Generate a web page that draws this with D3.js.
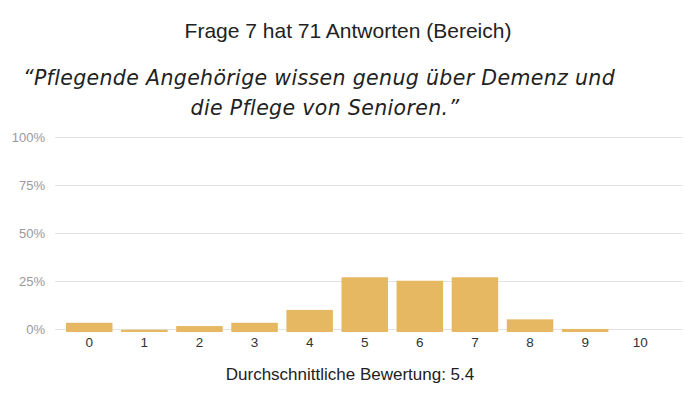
<!DOCTYPE html>
<html><head><meta charset="utf-8">
<script src="https://cdn.jsdelivr.net/npm/d3@7"></script>
<style>
body{margin:0;background:#fff;}
svg{display:block;}
</style></head>
<body>
<svg id="chart" width="700" height="400"></svg>
<script>
const categories = ["0","1","2","3","4","5","6","7","8","9","10"];
const values = [4.8, 1.2, 3.1, 4.8, 11.5, 28.5, 26.7, 28.5, 6.6, 1.6, 0];
const yTicks = [0, 25, 50, 75, 100];
const title = "Frage 7 hat 71 Antworten (Bereich)";
const subtitleLines = ["\u201CPflegende Angeh\u00F6rige wissen genug \u00FCber Demenz und", "die Pflege von Senioren.\u201D"];
const footer = "Durchschnittliche Bewertung: 5.4";

const svg = d3.select("#chart");
const x = d3.scaleBand().domain(categories).range([61.7, 667.8]).paddingInner(0.156).paddingOuter(0.078);
const y = d3.scaleLinear().domain([0, 100]).range([329, 137]);
const barOffset = 3;

svg.append("text").attr("x", 348).attr("y", 38).attr("text-anchor", "middle")
  .attr("font-family", "Liberation Sans, Arial, sans-serif").attr("font-size", 21).attr("fill", "#222")
  .text(title);

svg.append("g").selectAll("text").data(subtitleLines).join("text")
  .attr("x", (d,i) => i === 0 ? 319 : 325)
  .attr("y", (d,i) => 84.5 + i * 30.5)
  .attr("text-anchor", "middle")
  .attr("font-family", "'DejaVu Sans', sans-serif").attr("font-style", "italic")
  .attr("font-size", 20.5).attr("letter-spacing", 0.35).attr("fill", "#222")
  .text(d => d);

// grid
const yAxis = d3.axisLeft(y).tickValues(yTicks).tickFormat(d => d + "%").tickSize(-628).tickPadding(10);
const gy = svg.append("g").attr("transform", "translate(55,0)").call(yAxis);
gy.select(".domain").remove();
gy.selectAll(".tick line").attr("stroke", "#e3e3e3").attr("stroke-width", 1);
gy.selectAll(".tick text").attr("font-family", "Liberation Sans, Arial, sans-serif").attr("font-size", 13).attr("fill", "#999");

// bars
svg.append("g").selectAll("rect").data(values).join("rect")
  .attr("x", (d,i) => x(categories[i]))
  .attr("width", x.bandwidth())
  .attr("y", d => y(d) + barOffset)
  .attr("height", d => y(0) - y(d))
  .attr("fill", "#e7b862");

// x axis
const xAxis = d3.axisBottom(x).tickSize(0).tickPadding(0);
const gx = svg.append("g").attr("transform", "translate(0,337.5)").call(xAxis);
gx.select(".domain").remove();
gx.selectAll(".tick text").attr("font-family", "Liberation Sans, Arial, sans-serif").attr("font-size", 13.5).attr("fill", "#333").attr("dy", "0.71em");

svg.append("text").attr("x", 350).attr("y", 380).attr("text-anchor", "middle")
  .attr("font-family", "Liberation Sans, Arial, sans-serif").attr("font-size", 17).attr("fill", "#222")
  .text(footer);
</script>
</body></html>
